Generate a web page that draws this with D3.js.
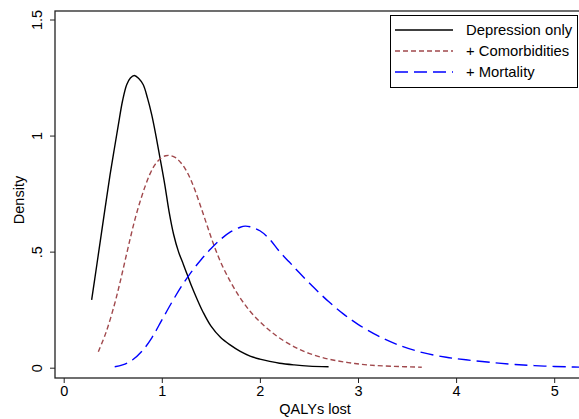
<!DOCTYPE html>
<html>
<head>
<meta charset="utf-8">
<script src="https://cdn.jsdelivr.net/npm/d3@7"></script>
<style>
  body { margin: 0; background: #fff; }
  svg { display: block; font-family: "Liberation Sans", Arial, sans-serif; }
</style>
</head>
<body>
<svg id="chart" width="579" height="419"></svg>
<script>
// density curves
var depX = [0.285,0.34,0.387,0.43,0.472,0.515,0.557,0.6,0.642,0.68,0.72,0.765,0.811,0.855,0.897,0.94,0.982,1.03,1.075,1.12,1.17,1.22,1.26,1.3,1.36,1.42,1.5,1.6,1.7,1.8,1.9,2.0,2.1,2.2,2.35,2.5,2.7];
var depY = [0.292,0.45,0.586,0.71,0.83,0.94,1.046,1.15,1.219,1.248,1.259,1.246,1.219,1.16,1.09,1.0,0.903,0.79,0.67,0.575,0.5,0.445,0.4,0.355,0.295,0.24,0.18,0.13,0.097,0.07,0.05,0.037,0.027,0.019,0.012,0.007,0.004];

var comX = [0.353,0.43,0.516,0.57,0.625,0.68,0.727,0.778,0.829,0.88,0.931,0.99,1.04,1.084,1.14,1.19,1.236,1.29,1.338,1.4,1.46,1.525,1.6,1.7,1.8,1.9,2.0,2.1,2.2,2.35,2.5,2.7,2.9,3.1,3.35,3.65];
var comY = [0.069,0.15,0.27,0.36,0.46,0.56,0.64,0.715,0.78,0.835,0.875,0.902,0.913,0.914,0.905,0.885,0.859,0.815,0.765,0.69,0.615,0.535,0.455,0.37,0.3,0.243,0.198,0.16,0.128,0.09,0.062,0.037,0.022,0.012,0.006,0.002];

var morX = [0.52,0.6,0.7,0.8,0.9,1.0,1.1,1.2,1.3,1.4,1.5,1.6,1.7,1.8,1.85,1.9,2.0,2.1,2.2,2.3,2.4,2.55,2.7,2.85,3.0,3.2,3.4,3.65,3.9,4.1,4.35,4.6,4.9,5.2,5.4];
var morY = [0.004,0.012,0.033,0.072,0.13,0.205,0.28,0.35,0.412,0.465,0.512,0.553,0.585,0.605,0.61,0.607,0.59,0.553,0.5,0.455,0.41,0.345,0.285,0.232,0.187,0.138,0.1,0.066,0.045,0.034,0.023,0.014,0.007,0.003,0.002];

var seriesNames = ["Depression only", "+ Comorbidities", "+ Mortality"];
var xTicks = [0, 1, 2, 3, 4, 5];
var yTicks = [0, 0.5, 1, 1.5];
var yTickLabels = ["0", ".5", "1", "1.5"];

var svg = d3.select("#chart");

var x = d3.scaleLinear().domain([0, 5]).range([63.7, 554.2]);
var y = d3.scaleLinear().domain([0, 1.5]).range([367.7, 19.5]);

var plotL = 55, plotT = 11, plotB = 378, plotR = 640;
var fontSize = 14.5;

// clip curves to the plot region
svg.append("clipPath").attr("id", "plotclip")
    .append("rect")
    .attr("x", plotL).attr("y", plotT)
    .attr("width", plotR - plotL).attr("height", plotB - plotT);

var series = [
    {name: seriesNames[0], xs: depX, ys: depY, color: "#000000", dash: null},
    {name: seriesNames[1], xs: comX, ys: comY, color: "#a0484c", dash: "5,3"},
    {name: seriesNames[2], xs: morX, ys: morY, color: "#0000ff", dash: "13,6"}
];

var line = d3.line()
    .x(function(d){ return x(d[0]); })
    .y(function(d){ return y(d[1]); })
    .curve(d3.curveCatmullRom.alpha(0.5));

svg.append("g").attr("clip-path", "url(#plotclip)")
    .selectAll("path")
    .data(series)
    .enter()
    .append("path")
    .attr("d", function(s){ return line(d3.zip(s.xs, s.ys)); })
    .attr("fill", "none")
    .attr("stroke", function(s){ return s.color; })
    .attr("stroke-width", 1.4)
    .attr("stroke-dasharray", function(s){ return s.dash; });

// plot frame
svg.append("rect")
    .attr("x", plotL).attr("y", plotT)
    .attr("width", plotR - plotL).attr("height", plotB - plotT)
    .attr("fill", "none")
    .attr("stroke", "#222")
    .attr("stroke-width", 1.3);

// x axis
var axisX = d3.axisBottom(x).tickValues(xTicks).tickFormat(d3.format("d"))
    .tickSize(5).tickPadding(3).tickSizeOuter(0);
var gx = svg.append("g")
    .attr("transform", "translate(0," + plotB + ")")
    .call(axisX);
gx.select(".domain").remove();
gx.selectAll("text").attr("font-size", fontSize).attr("font-family", "Liberation Sans, Arial, sans-serif").attr("fill", "#000");
gx.selectAll("line").attr("stroke", "#222");

// y axis
var axisY = d3.axisLeft(y).tickValues(yTicks)
    .tickFormat(function(d, i){ return yTickLabels[i]; })
    .tickSize(5).tickSizeOuter(0);
var gy = svg.append("g")
    .attr("transform", "translate(" + plotL + ",0)")
    .call(axisY);
gy.select(".domain").remove();
gy.selectAll("line").attr("stroke", "#222");
gy.selectAll("text")
    .attr("font-size", fontSize).attr("font-family", "Liberation Sans, Arial, sans-serif").attr("fill", "#000")
    .attr("x", null).attr("dy", null)
    .attr("text-anchor", "middle")
    .attr("transform", "translate(-13,0) rotate(-90)");

// axis titles
svg.append("text")
    .attr("x", 315).attr("y", 414)
    .attr("text-anchor", "middle")
    .attr("font-size", fontSize)
    .text("QALYs lost");
svg.append("text")
    .attr("transform", "translate(24,200) rotate(-90)")
    .attr("text-anchor", "middle")
    .attr("font-size", fontSize)
    .text("Density");

// legend
var lg = svg.append("g");
lg.append("rect")
    .attr("x", 390.5).attr("y", 15.5)
    .attr("width", 187).attr("height", 72)
    .attr("fill", "#fff")
    .attr("stroke", "#000")
    .attr("stroke-width", 1);
var rows = lg.selectAll("g.row")
    .data(series)
    .enter()
    .append("g")
    .attr("transform", function(d, i){ return "translate(0," + (30 + i * 21) + ")"; });
rows.append("line")
    .attr("x1", 395).attr("x2", 453)
    .attr("stroke", function(s){ return s.color; })
    .attr("stroke-width", 1.4)
    .attr("stroke-dasharray", function(s){ return s.dash; });
rows.append("text")
    .attr("x", 466).attr("dy", "0.35em")
    .attr("font-size", 14.8)
    .text(function(s){ return s.name; });
</script>
</body>
</html>
